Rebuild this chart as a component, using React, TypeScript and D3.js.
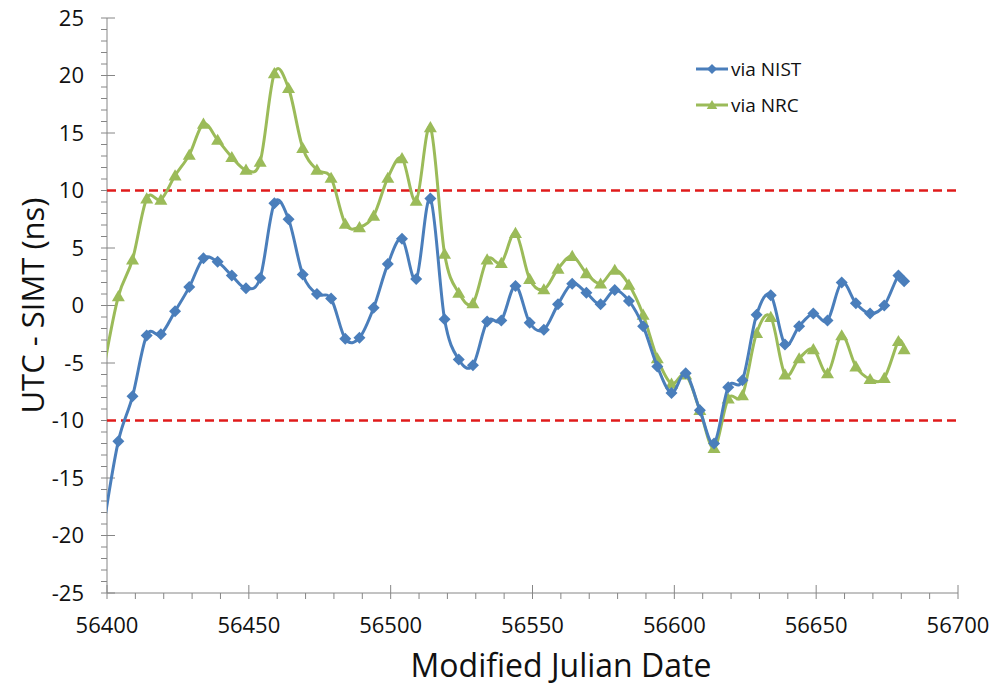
import * as d3 from "d3";
import React from "react";

// MJD of each measurement (last pair is two days apart)
const mjd = [
  56399, 56404, 56409, 56414, 56419, 56424, 56429, 56434, 56439, 56444,
  56449, 56454, 56459, 56464, 56469, 56474, 56479, 56484, 56489, 56494,
  56499, 56504, 56509, 56514, 56519, 56524, 56529, 56534, 56539, 56544,
  56549, 56554, 56559, 56564, 56569, 56574, 56579, 56584, 56589, 56594,
  56599, 56604, 56609, 56614, 56619, 56624, 56629, 56634, 56639, 56644,
  56649, 56654, 56659, 56664, 56669, 56674, 56679, 56681,
];

// UTC - SIMT (ns)
const viaNist = [
  -18.9, -11.8, -7.9, -2.6, -2.5, -0.5, 1.6, 4.1, 3.8, 2.6,
  1.5, 2.4, 8.9, 7.5, 2.7, 1.0, 0.6, -2.9, -2.8, -0.2,
  3.6, 5.8, 2.3, 9.3, -1.2, -4.7, -5.2, -1.4, -1.3, 1.7,
  -1.5, -2.1, 0.1, 1.9, 1.1, 0.1, 1.35, 0.4, -1.8, -5.3,
  -7.6, -5.9, -9.1, -12.0, -7.1, -6.5, -0.8, 0.9, -3.4, -1.8,
  -0.7, -1.3, 2.0, 0.2, -0.7, 0.0, 2.6, 2.1,
];

const viaNrc = [
  -5.3, 0.8, 4.0, 9.3, 9.2, 11.3, 13.1, 15.8, 14.4, 12.9,
  11.8, 12.5, 20.2, 18.9, 13.7, 11.8, 11.1, 7.1, 6.8, 7.8,
  11.1, 12.8, 9.1, 15.5, 4.5, 1.1, 0.2, 4.0, 3.7, 6.3,
  2.3, 1.4, 3.2, 4.3, 2.8, 1.9, 3.1, 1.8, -0.8, -4.6,
  -6.8, -6.0, -9.1, -12.4, -8.1, -7.8, -2.4, -1.0, -6.0, -4.6,
  -3.8, -5.9, -2.6, -5.3, -6.4, -6.3, -3.1, -3.8,
];

const limits = [10, -10];
const xTicks = [56400, 56450, 56500, 56550, 56600, 56650, 56700];
const yTicks = [-25, -20, -15, -10, -5, 0, 5, 10, 15, 20, 25];

const width = 994;
const height = 688;
const font = "'Open Sans', Lato, sans-serif";
const blue = "#4a7ebb";
const green = "#9bbb59";
const axisGray = "#868686";

const App = () => {
  const x = d3.scaleLinear([56400, 56700], [107, 958]);
  const y = d3.scaleLinear([-25, 25], [593, 18]);

  const line = d3
    .line<[number, number]>()
    .x(d => x(d[0]))
    .y(d => y(d[1]))
    .curve(d3.curveCardinal);

  const nist = mjd.map((m, i) => [m, viaNist[i]] as [number, number]);
  const nrc = mjd.map((m, i) => [m, viaNrc[i]] as [number, number]);
  const inside = (d: [number, number]) => d[0] >= 56400 && d[0] <= 56700;

  const minorX = d3.range(56400, 56701, 10).filter(v => v % 50 !== 0);
  const minorY = d3.range(-25, 26, 1).filter(v => v % 5 !== 0);

  const diamond = (s: number) => `M0,${-s}L${s},0L0,${s}L${-s},0Z`;
  const triangle = (s: number) => `M0,${-s}L${s * 1.05},${s * 0.8}L${-s * 1.05},${s * 0.8}Z`;

  return (
    <svg width={width} height={height} style={{ position: "absolute", left: 0, top: 0, background: "#fff" }}>
      <defs>
        <clipPath id="plot">
          <rect x={x(56400)} y={0} width={x(56700) - x(56400)} height={height} />
        </clipPath>
      </defs>

      {/* axes */}
      <g stroke={axisGray} strokeWidth={1}>
        <line x1={x(56400)} x2={x(56700)} y1={y(-25)} y2={y(-25)} />
        <line x1={x(56400)} x2={x(56400)} y1={y(-25)} y2={y(25)} />
        {xTicks.map(t => (
          <line key={t} x1={x(t)} x2={x(t)} y1={y(-25) - 8} y2={y(-25) + 6} />
        ))}
        {minorX.map(t => (
          <line key={t} x1={x(t)} x2={x(t)} y1={y(-25)} y2={y(-25) + 6} />
        ))}
        {yTicks.map(t => (
          <line key={t} x1={x(56400) - 6} x2={x(56400) + 8} y1={y(t)} y2={y(t)} />
        ))}
        {minorY.map(t => (
          <line key={t} x1={x(56400) - 6} x2={x(56400)} y1={y(t)} y2={y(t)} />
        ))}
      </g>

      <g fontFamily={font} fontSize={22} fill="#111">
        {xTicks.map(t => (
          <text key={t} x={x(t)} y={y(-25) + 40} textAnchor="middle">{t}</text>
        ))}
        {yTicks.map(t => (
          <text key={t} x={x(56400) - 23} y={y(t)} dy="0.36em" textAnchor="end">{t}</text>
        ))}
      </g>

      <text x={561} y={677} textAnchor="middle" fontFamily={font} fontSize={32} fill="#111">
        Modified Julian Date
      </text>
      <text
        transform={`translate(44,${y(0)}) rotate(-90)`}
        textAnchor="middle"
        fontFamily={font}
        fontSize={31}
        fill="#111"
      >
        UTC - SIMT (ns)
      </text>

      {/* tolerance limits */}
      {limits.map(l => (
        <line
          key={l}
          x1={x(56400)}
          x2={x(56700)}
          y1={y(l)}
          y2={y(l)}
          stroke="#e01b1b"
          strokeWidth={2.5}
          strokeDasharray="9,5"
        />
      ))}

      <g clipPath="url(#plot)">
        <path d={line(nrc) ?? ""} fill="none" stroke={green} strokeWidth={3} />
        {nrc.filter(inside).map((d, i) => (
          <path key={i} d={triangle(6.2)} transform={`translate(${x(d[0])},${y(d[1])})`} fill={green} />
        ))}
        <path d={line(nist) ?? ""} fill="none" stroke={blue} strokeWidth={3} />
        {nist.filter(inside).map((d, i) => (
          <path key={i} d={diamond(6)} transform={`translate(${x(d[0])},${y(d[1])})`} fill={blue} />
        ))}
      </g>

      {/* legend */}
      <g fontFamily={font} fontSize={19} fill="#111">
        <line x1={696} x2={728} y1={69} y2={69} stroke={blue} strokeWidth={3} />
        <path d={diamond(5)} transform="translate(712,69)" fill={blue} />
        <text x={731} y={69} dy="0.36em">via NIST</text>
        <line x1={696} x2={728} y1={105} y2={105} stroke={green} strokeWidth={3} />
        <path d={triangle(5)} transform="translate(712,105)" fill={green} />
        <text x={731} y={105} dy="0.36em">via NRC</text>
      </g>
    </svg>
  );
};

export default App;
